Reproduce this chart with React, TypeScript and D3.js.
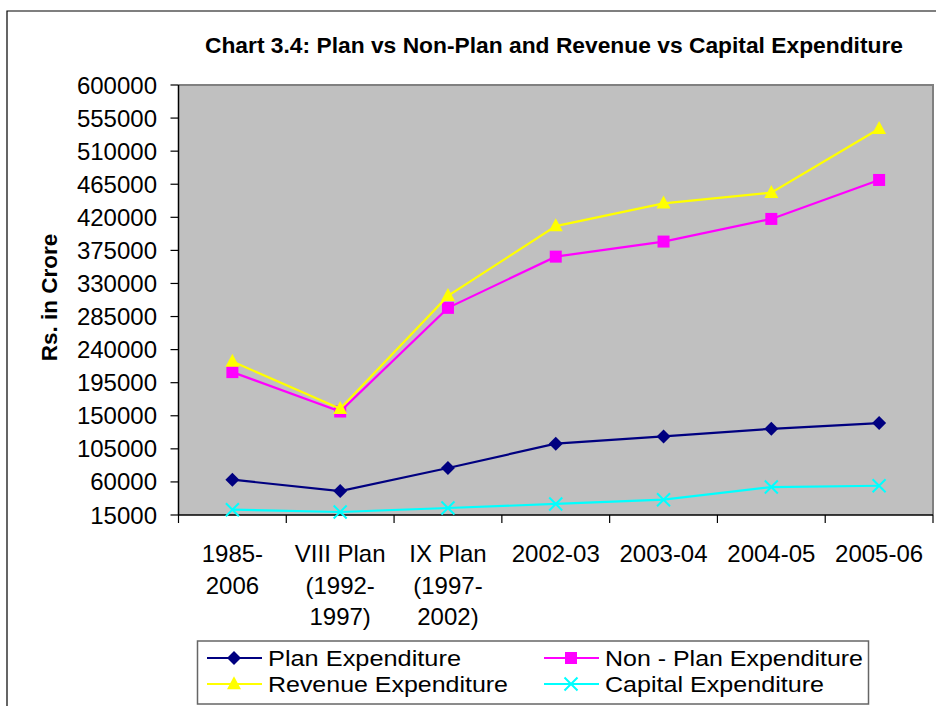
import React from "react";
import * as d3 from "d3";

const categories = ["1985-2006", "VIII Plan (1992-1997)", "IX Plan (1997-2002)", "2002-03", "2003-04", "2004-05", "2005-06"];
const categoryLines = [["1985-", "2006"], ["VIII Plan", "(1992-", "1997)"], ["IX Plan", "(1997-", "2002)"], ["2002-03"], ["2003-04"], ["2004-05"], ["2005-06"]];

const planExp = [63000, 47600, 78900, 112000, 121900, 132300, 140000];
const nonPlanExp = [209400, 155800, 296800, 366500, 387000, 417800, 470800];
const revenueExp = [223800, 159500, 313100, 408000, 439000, 453500, 540500];
const capitalExp = [22200, 19100, 24500, 30000, 35800, 53000, 54800];

const yTicks = [15000, 60000, 105000, 150000, 195000, 240000, 285000, 330000, 375000, 420000, 465000, 510000, 555000, 600000];

const seriesNames = ["Plan Expenditure", "Non - Plan Expenditure", "Revenue Expenditure", "Capital Expenditure"];
const seriesColors = ["#000080", "#FF00FF", "#FFFF00", "#00FFFF"];
const seriesMarkers = ["diamond", "square", "triangle", "x"];
const seriesValues = [planExp, nonPlanExp, revenueExp, capitalExp];

const FONT = "'Liberation Sans', Arial, sans-serif";

function Marker({ type, x, y, color }: { type: string; x: number; y: number; color: string }) {
  if (type === "diamond") {
    const r = 7;
    return <path d={`M${x},${y - r}L${x + r},${y}L${x},${y + r}L${x - r},${y}Z`} fill={color} />;
  }
  if (type === "square") {
    const s = 12;
    return <rect x={x - s / 2} y={y - s / 2} width={s} height={s} fill={color} />;
  }
  if (type === "triangle") {
    const w = 14, h = 13;
    return <path d={`M${x},${y - h * 0.6}L${x + w / 2},${y + h * 0.4}L${x - w / 2},${y + h * 0.4}Z`} fill={color} />;
  }
  const r = 6.5;
  return (
    <path d={`M${x - r},${y - r}L${x + r},${y + r}M${x - r},${y + r}L${x + r},${y - r}`} stroke={color} strokeWidth={2} fill="none" />
  );
}

export default function App() {
  const left = 178.5, right = 933, top = 85, bottom = 515;
  const x = d3.scaleBand<string>().domain(categories).range([left, right]);
  const y = d3.scaleLinear().domain([15000, 600000]).range([bottom, top]);
  const cx = (c: string) => (x(c) as number) + x.bandwidth() / 2;
  const line = d3
    .line<number>()
    .x((_, i) => cx(categories[i]))
    .y((d) => y(d));

  const legendWidths = [193, 258, 240, 219];
  const legendItems = seriesNames.map((name, i) => {
    const col = i % 2;
    const row = Math.floor(i / 2);
    const lx = col === 0 ? 207 : 544;
    return { name, i, lx, ly: 658 + row * 26 };
  });

  const boundaries = [...categories.map((c) => x(c) as number), right];

  return (
    <svg width={936} height={706} style={{ position: "absolute", left: 0, top: 0, display: "block", background: "#fff" }} fontFamily={FONT}>
      {/* outer chart border */}
      <path d="M7,720V11H950" fill="none" stroke="#000" strokeWidth={1.2} />
      {/* title */}
      <text x={554} y={53} textAnchor="middle" fontWeight="bold" fontSize={22.8} fill="#000">
        Chart 3.4: Plan vs Non-Plan and Revenue vs Capital Expenditure
      </text>
      {/* y-axis title */}
      <text transform={`translate(57,297.5) rotate(-90)`} textAnchor="middle" fontWeight="bold" fontSize={22.5} fill="#000">
        Rs. in Crore
      </text>
      {/* plot area */}
      <rect x={left} y={top} width={right - left} height={bottom - top} fill="#C0C0C0" />
      <path d={`M${left},${top}H${right}V${bottom}`} fill="none" stroke="#808080" strokeWidth={2} />
      {/* y axis */}
      <line x1={left} x2={left} y1={top} y2={bottom} stroke="#000" strokeWidth={1.5} />
      {yTicks.map((t) => (
        <g key={t}>
          <line x1={left - 8} x2={left} y1={y(t)} y2={y(t)} stroke="#000" strokeWidth={1.2} />
          <text x={157} y={y(t) + 8.5} textAnchor="end" fontSize={24} fill="#000">
            {t}
          </text>
        </g>
      ))}
      {/* x axis */}
      <line x1={left} x2={right} y1={bottom} y2={bottom} stroke="#000" strokeWidth={1.5} />
      {boundaries.map((b, i) => (
        <line key={i} x1={b} x2={b} y1={bottom} y2={bottom + 8} stroke="#000" strokeWidth={1.2} />
      ))}
      {categories.map((c, i) => (
        <text key={c} x={cx(c)} y={562} textAnchor="middle" fontSize={24} fill="#000">
          {categoryLines[i].map((l, j) => (
            <tspan key={j} x={cx(c)} dy={j === 0 ? 0 : 31.5}>
              {l}
            </tspan>
          ))}
        </text>
      ))}
      {/* series */}
      {seriesValues.map((vals, si) => (
        <g key={si}>
          <path d={line(vals) as string} fill="none" stroke={seriesColors[si]} strokeWidth={2.2} />
          {vals.map((v, i) => (
            <Marker key={i} type={seriesMarkers[si]} x={cx(categories[i])} y={y(v)} color={seriesColors[si]} />
          ))}
        </g>
      ))}
      {/* legend */}
      <rect x={197.5} y={641} width={671} height={63} fill="#fff" stroke="#666" strokeWidth={1.5} />
      {legendItems.map((it) => (
        <g key={it.name}>
          <line x1={it.lx} x2={it.lx + 55} y1={it.ly} y2={it.ly} stroke={seriesColors[it.i]} strokeWidth={2.2} />
          <Marker type={seriesMarkers[it.i]} x={it.lx + 27} y={it.ly} color={seriesColors[it.i]} />
          <text x={it.lx + 61} y={it.ly + 8} fontSize={22.5} fill="#000" textLength={legendWidths[it.i]} lengthAdjust="spacingAndGlyphs">
            {it.name}
          </text>
        </g>
      ))}
    </svg>
  );
}
